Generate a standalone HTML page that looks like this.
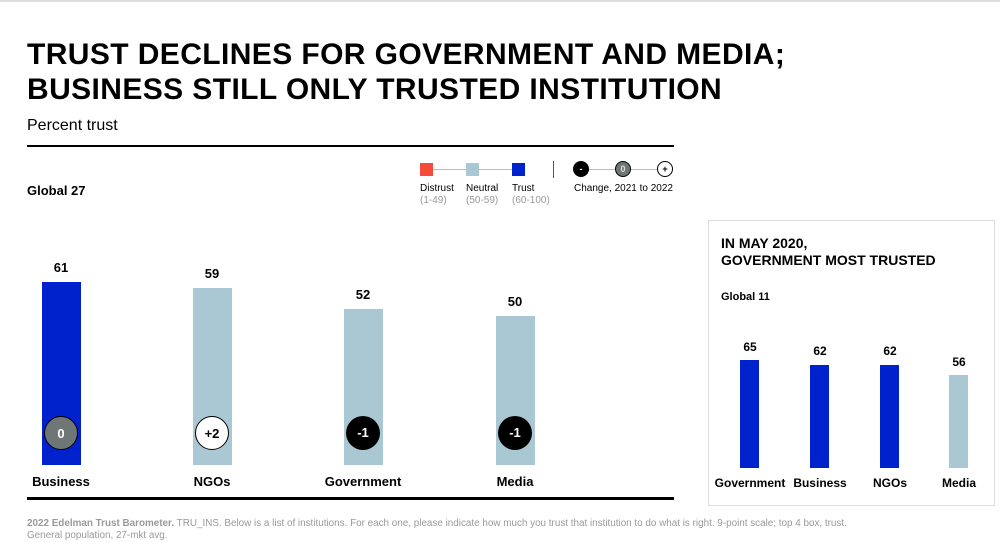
<!DOCTYPE html><html><head><style>
body{margin:0;width:1000px;height:542px;background:#fff;position:relative;overflow:hidden;font-family:"Liberation Sans",Arial,sans-serif;color:#000}
.a{position:absolute}
.t{left:27px;top:37px;font-size:30px;font-weight:bold;line-height:35px;letter-spacing:0.4px}
.bar{position:absolute}
.lbl{position:absolute;font-size:13px;font-weight:bold;text-align:center;width:120px}
.c{position:absolute;width:34px;height:34px;border-radius:50%;font-size:13px;font-weight:bold;text-align:center;line-height:34px;box-sizing:border-box}
</style></head><body>
<div class="a" style="left:0;top:0;width:1000px;height:2px;background:#ddd"></div>
<div class="a t">TRUST DECLINES FOR GOVERNMENT AND MEDIA;<br>BUSINESS STILL ONLY TRUSTED INSTITUTION</div>
<div class="a" style="left:27px;top:117px;font-size:16px">Percent trust</div>
<div class="a" style="left:27px;top:145px;width:647px;height:2px;background:#000"></div>
<div class="a" style="left:27px;top:183px;font-size:13px;font-weight:bold">Global 27</div>
<div class="a" style="left:427px;top:169px;width:90px;height:1px;background:#bbb"></div>
<div class="a" style="left:420px;top:163px;width:13px;height:13px;background:#f64a3a"></div>
<div class="a" style="left:466px;top:163px;width:13px;height:13px;background:#a9c8d3"></div>
<div class="a" style="left:512px;top:163px;width:13px;height:13px;background:#0022cc"></div>
<div class="a" style="left:420px;top:183px;font-size:10px;line-height:12px">Distrust<br><span style="color:#999">(1-49)</span></div>
<div class="a" style="left:466px;top:183px;font-size:10px;line-height:12px">Neutral<br><span style="color:#999">(50-59)</span></div>
<div class="a" style="left:512px;top:183px;font-size:10px;line-height:12px">Trust<br><span style="color:#999">(60-100)</span></div>
<div class="a" style="left:553px;top:161px;width:1px;height:17px;background:#555"></div>
<div class="a" style="left:580px;top:169px;width:85px;height:1px;background:#bbb"></div>
<div class="c" style="left:573px;top:161px;width:16px;height:16px;line-height:16px;font-size:9px;background:#000;color:#fff">-</div>
<div class="c" style="left:615px;top:161px;width:16px;height:16px;line-height:14px;font-size:9px;background:#6e7676;color:#ddd;border:1px solid #000">0</div>
<div class="c" style="left:657px;top:161px;width:16px;height:16px;line-height:14px;font-size:9px;background:#fff;border:1px solid #000">+</div>
<div class="a" style="left:574px;top:183px;font-size:10px">Change, 2021 to 2022</div>
<div class="bar" style="left:42px;top:282px;width:39px;height:183px;background:#0022cc"></div>
<div class="bar" style="left:193px;top:288px;width:39px;height:177px;background:#a9c8d3"></div>
<div class="bar" style="left:344px;top:309px;width:39px;height:156px;background:#a9c8d3"></div>
<div class="bar" style="left:496px;top:316px;width:39px;height:149px;background:#a9c8d3"></div>
<div class="lbl" style="left:1px;top:260px">61</div>
<div class="lbl" style="left:152px;top:266px">59</div>
<div class="lbl" style="left:303px;top:287px">52</div>
<div class="lbl" style="left:455px;top:294px">50</div>
<div class="c" style="left:44px;top:416px;background:#6e7676;color:#fff;border:1.5px solid #000">0</div>
<div class="c" style="left:195px;top:416px;background:#fff;border:1.5px solid #000">+2</div>
<div class="c" style="left:346px;top:416px;background:#000;color:#fff">-1</div>
<div class="c" style="left:498px;top:416px;background:#000;color:#fff">-1</div>
<div class="lbl" style="left:1px;top:474px">Business</div>
<div class="lbl" style="left:152px;top:474px">NGOs</div>
<div class="lbl" style="left:303px;top:474px">Government</div>
<div class="lbl" style="left:455px;top:474px">Media</div>
<div class="a" style="left:27px;top:497px;width:647px;height:3px;background:#000"></div>
<div class="a" style="left:708px;top:220px;width:285px;height:284px;border:1px solid #ddd"></div>
<div class="a" style="left:721px;top:235px;font-size:14px;font-weight:bold;line-height:17px">IN MAY 2020,<br>GOVERNMENT MOST TRUSTED</div>
<div class="a" style="left:721px;top:291px;font-size:11px;font-weight:bold">Global 11</div>
<div class="bar" style="left:740px;top:360px;width:19px;height:108px;background:#0022cc"></div>
<div class="bar" style="left:810px;top:365px;width:19px;height:103px;background:#0022cc"></div>
<div class="bar" style="left:880px;top:365px;width:19px;height:103px;background:#0022cc"></div>
<div class="bar" style="left:949px;top:375px;width:19px;height:93px;background:#a9c8d3"></div>
<div class="lbl" style="left:690px;top:340px;font-size:12px">65</div>
<div class="lbl" style="left:760px;top:344px;font-size:12px">62</div>
<div class="lbl" style="left:830px;top:344px;font-size:12px">62</div>
<div class="lbl" style="left:899px;top:355px;font-size:12px">56</div>
<div class="lbl" style="left:690px;top:476px;font-size:12px">Government</div>
<div class="lbl" style="left:760px;top:476px;font-size:12px">Business</div>
<div class="lbl" style="left:830px;top:476px;font-size:12px">NGOs</div>
<div class="lbl" style="left:899px;top:476px;font-size:12px">Media</div>
<div class="a" style="left:27px;top:518px;font-size:9.9px;color:#999;line-height:12px;white-space:nowrap"><b>2022 Edelman Trust Barometer.</b> TRU_INS. Below is a list of institutions. For each one, please indicate how much you trust that institution to do what is right. 9-point scale; top 4 box, trust.<br>General population, 27-mkt avg.</div>
</body></html>
